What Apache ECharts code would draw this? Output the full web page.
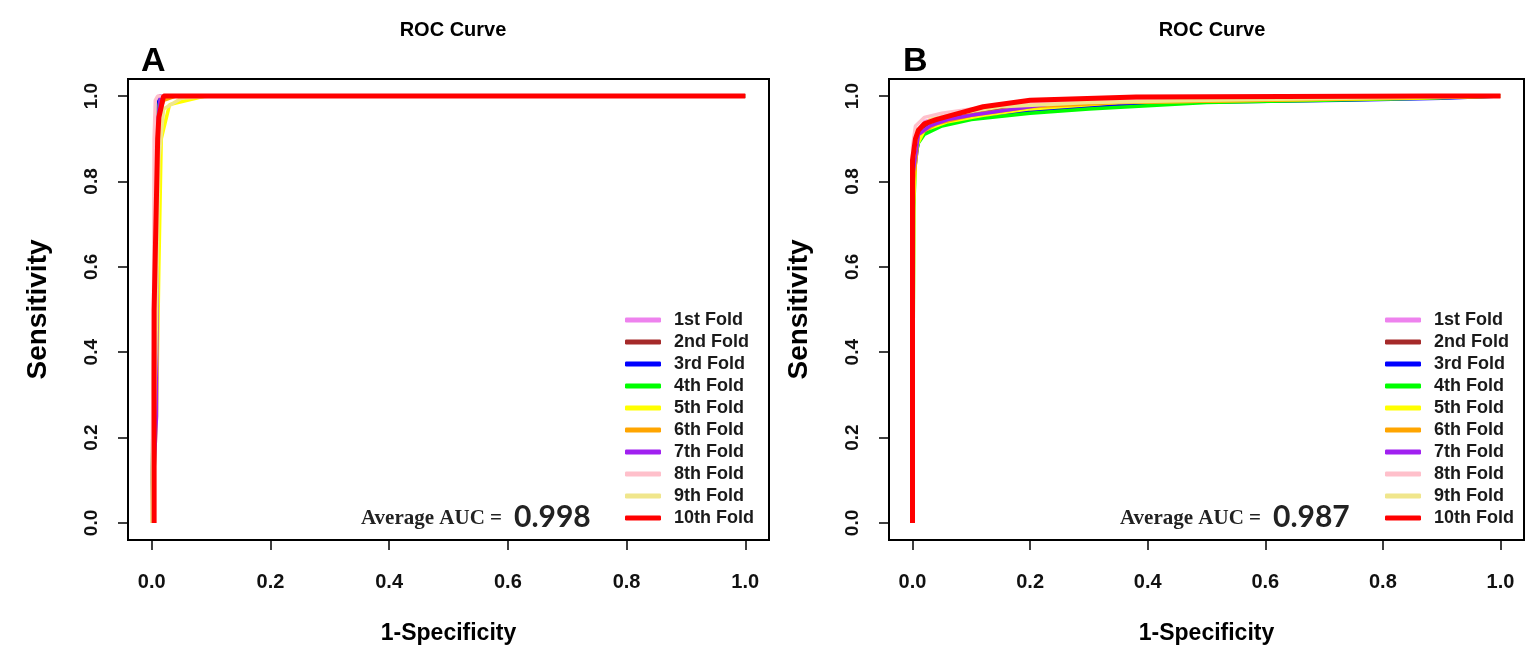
<!DOCTYPE html>
<html>
<head>
<meta charset="utf-8">
<title>ROC Curve</title>
<script src="https://cdn.jsdelivr.net/npm/echarts@6/dist/echarts.min.js"></script>
<style>
  html, body { margin: 0; padding: 0; background: #fff; }
  #chart { width: 1534px; height: 656px; }
</style>
</head>
<body>
<div id="chart"></div>
<script>
// fold names and colours (R colour names)
const foldNames = ['1st Fold', '2nd Fold', '3rd Fold', '4th Fold', '5th Fold',
  '6th Fold', '7th Fold', '8th Fold', '9th Fold', '10th Fold']
const foldColors = ['#EE82EE', '#A52A2A', '#0000FF', '#00FF00', '#FFFF00',
  '#FFA500', '#A020F0', '#FFC0CB', '#F0E68C', '#FF0000']
const tickValues = [0, 0.2, 0.4, 0.6, 0.8, 1.0]
const aucA = '0.998'
const aucB = '0.987'

// panel A: [1-specificity, sensitivity] per fold
const rocA = [
  [[0, 0], [0.004, 0.35], [0.006, 0.8], [0.008, 0.97], [0.012, 1], [1, 1]],
  [[0, 0], [0.005, 0.5], [0.008, 0.95], [0.014, 1], [1, 1]],
  [[0, 0], [0.004, 0.25], [0.006, 0.9], [0.01, 0.99], [0.015, 1], [1, 1]],
  [[0, 0], [0.005, 0.6], [0.009, 0.96], [0.016, 1], [1, 1]],
  [[0, 0], [0.008, 0.25], [0.012, 0.6], [0.016, 0.9], [0.03, 0.98], [0.09, 1], [1, 1]],
  [[0, 0], [0.006, 0.5], [0.01, 0.95], [0.02, 0.99], [0.04, 1], [1, 1]],
  [[0, 0], [0.008, 0.25], [0.009, 0.6], [0.01, 0.95], [0.015, 1], [1, 1]],
  [[0, 0], [0.003, 0.5], [0.004, 0.9], [0.006, 0.99], [0.01, 1], [1, 1]],
  [[0, 0], [0.007, 0.4], [0.012, 0.85], [0.02, 0.97], [0.05, 0.995], [0.1, 1], [1, 1]],
  [[0.004, 0], [0.004, 0.5], [0.007, 0.7], [0.01, 0.9], [0.012, 0.95], [0.02, 1], [1, 1]],
]

// panel B
const rocB = [
  [[0, 0], [0, 0.86], [0.004, 0.91], [0.02, 0.94], [0.06, 0.955], [0.12, 0.97], [0.25, 0.985], [0.5, 0.995], [1, 1]],
  [[0, 0], [0, 0.84], [0.008, 0.915], [0.03, 0.94], [0.08, 0.955], [0.15, 0.97], [0.3, 0.99], [0.55, 0.995], [1, 1]],
  [[0, 0], [0.001, 0.8], [0.01, 0.9], [0.03, 0.925], [0.08, 0.945], [0.15, 0.96], [0.3, 0.975], [0.45, 0.985], [0.73, 0.99], [0.9, 0.995], [1, 1]],
  [[0, 0], [0.002, 0.73], [0.005, 0.86], [0.01, 0.89], [0.02, 0.91], [0.05, 0.93], [0.1, 0.945], [0.2, 0.96], [0.3, 0.97], [0.5, 0.985], [0.7, 0.99], [0.86, 0.995], [1, 1]],
  [[0, 0], [0.002, 0.75], [0.006, 0.88], [0.02, 0.92], [0.06, 0.94], [0.12, 0.955], [0.2, 0.97], [0.35, 0.985], [0.6, 0.99], [0.85, 0.995], [1, 1]],
  [[0, 0], [0.002, 0.8], [0.01, 0.91], [0.04, 0.935], [0.1, 0.955], [0.2, 0.975], [0.35, 0.985], [0.6, 0.99], [1, 1]],
  [[0, 0], [0.001, 0.82], [0.01, 0.91], [0.03, 0.93], [0.06, 0.945], [0.1, 0.955], [0.15, 0.965], [0.25, 0.985], [0.5, 0.995], [1, 1]],
  [[0, 0], [0, 0.88], [0.005, 0.93], [0.02, 0.95], [0.05, 0.96], [0.1, 0.97], [0.2, 0.985], [0.4, 0.995], [1, 1]],
  [[0, 0], [0.001, 0.85], [0.008, 0.92], [0.03, 0.945], [0.08, 0.96], [0.15, 0.975], [0.3, 0.985], [0.5, 0.99], [1, 1]],
  [[0, 0], [0, 0.85], [0.005, 0.9], [0.01, 0.92], [0.02, 0.935], [0.04, 0.945], [0.08, 0.96], [0.12, 0.975], [0.2, 0.99], [0.38, 0.998], [0.88, 1], [1, 1]],
]

const FONT = '"Liberation Sans", Arial, sans-serif'

function makeAxis(gridIndex, type, name) {
  const isX = type === 'x'
  return {
    type: 'value',
    gridIndex: gridIndex,
    min: -0.04,
    max: 1.04,
    name: name,
    nameLocation: 'middle',
    nameGap: isX ? 82 : 76,
    nameTextStyle: { fontFamily: FONT, fontWeight: 'bold', fontSize: isX ? 23 : 28, color: '#000' },
    splitLine: { show: false },
    axisLine: { show: false, onZero: false },
    axisTick: {
      show: true,
      length: 10,
      customValues: tickValues,
      lineStyle: { color: '#000', width: 1.5 },
    },
    axisLabel: {
      customValues: tickValues,
      formatter: v => v.toFixed(1),
      rotate: isX ? 0 : 90,
      margin: isX ? 32 : 27,
      fontFamily: FONT,
      fontWeight: 'bold',
      fontSize: isX ? 20 : 19,
      color: '#111',
    },
  }
}

function makeSeries(rocs, idx) {
  return rocs.map((d, i) => ({
    name: foldNames[i],
    type: 'line',
    xAxisIndex: idx,
    yAxisIndex: idx,
    data: d,
    symbol: 'none',
    color: foldColors[i],
    lineStyle: { width: i === 9 ? 5 : 3.5, color: foldColors[i] },
    z: 2 + i,
  }))
}

function makeLegend(left) {
  return {
    orient: 'vertical',
    left: left,
    top: 306,
    data: foldNames,
    icon: 'roundRect',
    itemWidth: 36,
    itemHeight: 5,
    itemGap: 4,
    selectedMode: false,
    formatter: n => '{t|' + n + '}',
    textStyle: {
      rich: {
        t: { fontFamily: FONT, fontWeight: 'bold', fontSize: 18, lineHeight: 18, color: '#1a1a1a', padding: [0, 0, 0, 8] },
      },
    },
  }
}

function aucTitle(left, value) {
  return {
    left: left,
    top: 493,
    text: '{a|Average AUC =}{b|' + value + '}',
    textStyle: {
      rich: {
        a: { fontFamily: '"Liberation Serif", "Times New Roman", serif', fontWeight: 'bold', fontSize: 21, color: '#222', lineHeight: 34, verticalAlign: 'bottom', padding: [0, 12, 3, 0] },
        b: { fontFamily: 'Lato, "Open Sans", sans-serif', fontSize: 30, color: '#222', lineHeight: 34, verticalAlign: 'bottom' },
      },
    },
  }
}

const chart = echarts.init(document.getElementById('chart'))

chart.setOption({
  animation: false,
  backgroundColor: '#fff',
  title: [
    { text: 'ROC Curve', left: 448, top: 15, textAlign: 'center', textStyle: { fontFamily: FONT, fontWeight: 'bold', fontSize: 20, color: '#000' } },
    { text: 'ROC Curve', left: 1207, top: 15, textAlign: 'center', textStyle: { fontFamily: FONT, fontWeight: 'bold', fontSize: 20, color: '#000' } },
    { text: 'A', left: 136, top: 40, textStyle: { fontFamily: FONT, fontWeight: 'bold', fontSize: 34, color: '#000' } },
    { text: 'B', left: 898, top: 40, textStyle: { fontFamily: FONT, fontWeight: 'bold', fontSize: 34, color: '#000' } },
    aucTitle(356, aucA),
    aucTitle(1115, aucB),
  ],
  grid: [
    { left: 128, top: 79, width: 641, height: 461, show: true, borderColor: '#000', borderWidth: 2, backgroundColor: 'transparent' },
    { left: 889, top: 79, width: 635, height: 461, show: true, borderColor: '#000', borderWidth: 2, backgroundColor: 'transparent' },
  ],
  xAxis: [makeAxis(0, 'x', '1-Specificity'), makeAxis(1, 'x', '1-Specificity')],
  yAxis: [makeAxis(0, 'y', 'Sensitivity'), makeAxis(1, 'y', 'Sensitivity')],
  legend: [makeLegend(620), makeLegend(1380)],
  series: [...makeSeries(rocA, 0), ...makeSeries(rocB, 1)],
})
</script>
</body>
</html>
